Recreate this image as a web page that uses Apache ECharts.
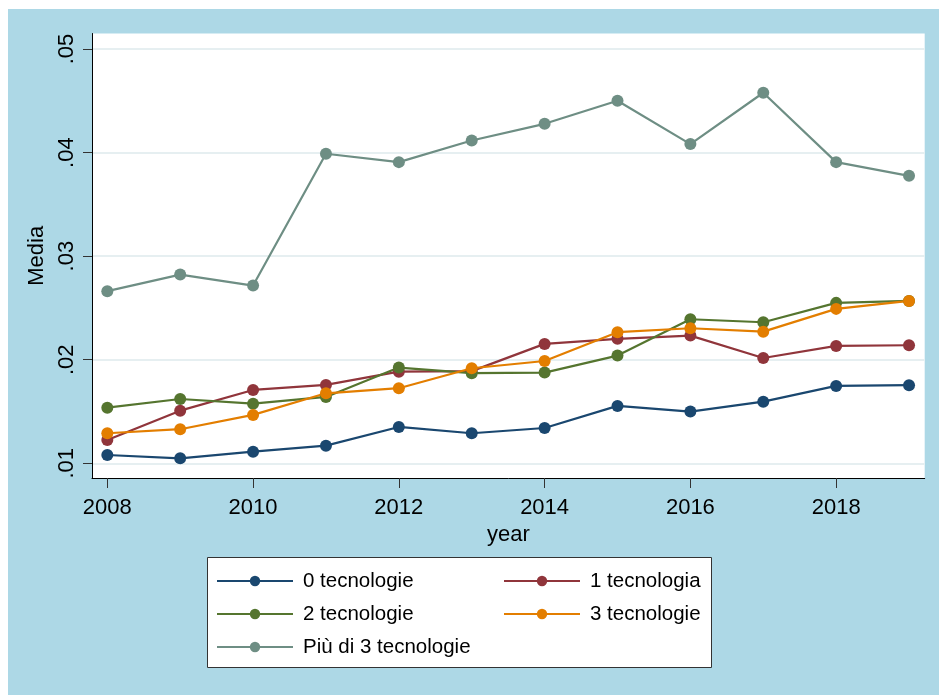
<!DOCTYPE html>
<html>
<head>
<meta charset="utf-8">
<script src="https://cdn.jsdelivr.net/npm/echarts@6/dist/echarts.min.js"></script>
<style>
  html, body { margin: 0; padding: 0; background: #fff; }
  #chart { width: 939px; height: 695px; }
</style>
</head>
<body>
<div id="chart"></div>
<script>
// anni e medie
const years = [2008, 2009, 2010, 2011, 2012, 2013, 2014, 2015, 2016, 2017, 2018, 2019];
const tech0 = [0.0108, 0.01048, 0.01112, 0.0117, 0.01351, 0.0129, 0.01341, 0.01554, 0.01499, 0.01595, 0.01747, 0.01754];
const tech1 = [0.01225, 0.01508, 0.01708, 0.01757, 0.01885, 0.0189, 0.02153, 0.02202, 0.02233, 0.02017, 0.02133, 0.0214];
const tech2 = [0.01537, 0.01621, 0.01576, 0.01641, 0.01924, 0.0187, 0.01876, 0.0204, 0.02391, 0.02362, 0.02549, 0.02568];
const tech3 = [0.0129, 0.01329, 0.01467, 0.01676, 0.01725, 0.01918, 0.01988, 0.02266, 0.02304, 0.02271, 0.02491, 0.02568];
const techMore = [0.02662, 0.02822, 0.02716, 0.03989, 0.03908, 0.04117, 0.04278, 0.045, 0.04082, 0.04578, 0.03908, 0.03776];

const seriesNames = ['0 tecnologie', '1 tecnologia', '2 tecnologie', '3 tecnologie', 'Più di 3 tecnologie'];
const seriesColors = ['#1a476f', '#90353b', '#55752f', '#e37e00', '#6e8e84'];
const seriesValues = [tech0, tech1, tech2, tech3, techMore];

const xTicks = [2008, 2010, 2012, 2014, 2016, 2018];
const yTicks = [0.01, 0.02, 0.03, 0.04, 0.05];

const FONT = '"Liberation Sans", Arial, sans-serif';

const chart = echarts.init(document.getElementById('chart'), null, { renderer: 'canvas' });

const series = seriesNames.map((name, i) => ({
  name: name,
  type: 'line',
  data: years.map((y, j) => [y, seriesValues[i][j]]),
  symbol: 'circle',
  symbolSize: 12,
  showSymbol: true,
  lineStyle: { width: 2.2, color: seriesColors[i] },
  itemStyle: { color: seriesColors[i] },
  emphasis: { disabled: true },
  animation: false
}));

const legendText = { fontFamily: FONT, fontSize: 20.5, color: '#000', lineHeight: 24, padding: [0, 0, 0, 5] };

const option = {
  animation: false,
  backgroundColor: '#fff',
  graphic: [
    // sfondo azzurro
    { type: 'rect', z: -10, silent: true, shape: { x: 8, y: 9, width: 931, height: 686 }, style: { fill: '#add8e6' } },
    // riquadro legenda
    { type: 'rect', z: 1, silent: true, shape: { x: 207.5, y: 557.5, width: 504, height: 110 }, style: { fill: '#fff', stroke: '#333', lineWidth: 1 } }
  ],
  grid: {
    left: 92, top: 33.5, right: 14.3, bottom: 217,
    show: true, backgroundColor: '#fff', borderWidth: 0
  },
  xAxis: {
    type: 'value',
    min: 2007.79,
    max: 2019.215,
    name: 'year',
    nameLocation: 'middle',
    nameGap: 36,
    nameTextStyle: { fontFamily: FONT, fontSize: 22, color: '#000' },
    axisLine: { show: true, onZero: false, lineStyle: { color: '#000', width: 1 } },
    axisTick: { show: true, length: 10, customValues: xTicks, lineStyle: { color: '#333' } },
    axisLabel: {
      customValues: xTicks, margin: 19, fontFamily: FONT, fontSize: 22, color: '#000',
      formatter: v => String(v)
    },
    splitLine: { show: false }
  },
  yAxis: {
    type: 'value',
    min: 0.00858,
    max: 0.0515,
    name: 'Media',
    nameLocation: 'middle',
    nameRotate: 90,
    nameGap: 44,
    nameTextStyle: { fontFamily: FONT, fontSize: 22, color: '#000' },
    axisLine: { show: true, onZero: false, lineStyle: { color: '#000', width: 1 } },
    axisTick: { show: true, length: 9, customValues: yTicks, lineStyle: { color: '#333' } },
    axisLabel: {
      customValues: yTicks,
      rotate: 90,
      margin: 14,
      fontFamily: FONT,
      fontSize: 22,
      color: '#000',
      formatter: v => v.toFixed(2).replace(/^0/, '')
    },
    splitLine: { show: true, lineStyle: { color: '#e6eff1', width: 2 } }
  },
  legend: [
    {
      orient: 'vertical', left: 216, top: 569, z: 5, padding: 0,
      data: [seriesNames[0], seriesNames[2], seriesNames[4]],
      itemWidth: 76, itemHeight: 13, itemGap: 9,
      textStyle: legendText,
      selectedMode: false
    },
    {
      orient: 'vertical', left: 503, top: 569, z: 5, padding: 0,
      data: [seriesNames[1], seriesNames[3]],
      itemWidth: 76, itemHeight: 13, itemGap: 9,
      textStyle: legendText,
      selectedMode: false
    }
  ],
  series: series
};

chart.setOption(option);
</script>
</body>
</html>
